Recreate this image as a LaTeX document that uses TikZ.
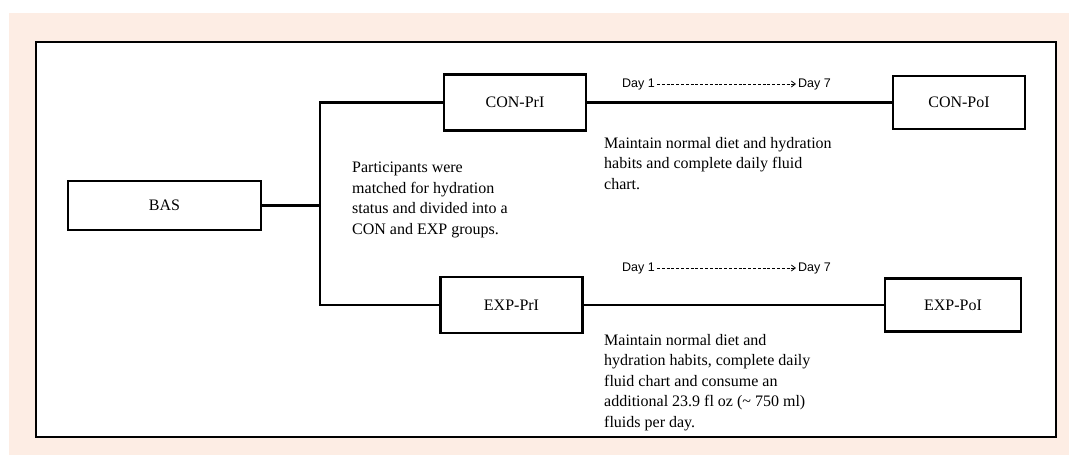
\documentclass[tikz,border=0pt]{standalone}
\usepackage{fontspec}
\setmainfont{Liberation Serif}
\newfontfamily\dayfont{Liberation Sans}
\usetikzlibrary{arrows.meta}
\definecolor{peach}{RGB}{253,237,228}
\begin{document}
\begin{tikzpicture}[x=1pt,y=-1pt,
    box/.style={draw,line width=2.2pt,minimum width=142pt,minimum height=56pt,inner sep=0pt,font=\fontsize{16}{20}\selectfont},
    link/.style={line width=2.2pt},
    note/.style={anchor=north west,inner sep=0pt,align=left,font=\fontsize{16}{20.5}\selectfont},
    day/.style={inner sep=2pt,font=\dayfont\fontsize{12.5}{14}\selectfont},
    dayline/.style={line width=0.8pt,dash pattern=on 3pt off 1.8pt,-{Straight Barb[length=4pt,width=6pt]}}]
    \useasboundingbox (0,0) rectangle (1069,455);
    \fill[peach] (9,13) rectangle (1069,455);
    \draw[fill=white,line width=2pt] (35.5,42) rectangle (1056,437);
                \node[box,minimum width=193pt,minimum height=49pt] (bas) at (164.5,205.5) {BAS};
                \node[box] (conpri) at (515,102.5) {CON-PrI};
                \node[box,minimum width=132pt,minimum height=53pt] (conpoi) at (959,102.5) {CON-PoI};
                \node[box] (exppri) at (511.5,305) {EXP-PrI};
                \node[box,minimum width=136pt,minimum height=53pt] (exppoi) at (953,305) {EXP-PoI};
                \coordinate (split) at (320,205.5);
                \draw[link] (bas) -- (split)
                (conpri.west) -| (split) |- (exppri.west)
                (conpri) -- (conpoi)
                (exppri) -- (exppoi);
                \node[day,anchor=west] (cday1) at (620,84) {Day 1};
                \node[day,anchor=east] (cday7) at (833,84) {Day 7};
                \node[day,anchor=west] (eday1) at (620,268) {Day 1};
                \node[day,anchor=east] (eday7) at (833,268) {Day 7};
                \draw[dayline] (cday1) -- (cday7);
                \draw[dayline] (eday1) -- (eday7);
                \node[note] (splitnote) at (352,162) {Participants were\\matched for hydration\\status and divided into a\\CON and EXP groups.};
                \node[note] (connote) at (604,137) {Maintain normal diet and hydration\\habits and complete daily fluid\\chart.};
                \node[note] (expnote) at (604,334) {Maintain normal diet and\\hydration habits, complete daily\\fluid chart and consume an\\additional 23.9 fl oz (\textasciitilde\ 750 ml)\\fluids per day.};
            \end{tikzpicture}
\end{document}
